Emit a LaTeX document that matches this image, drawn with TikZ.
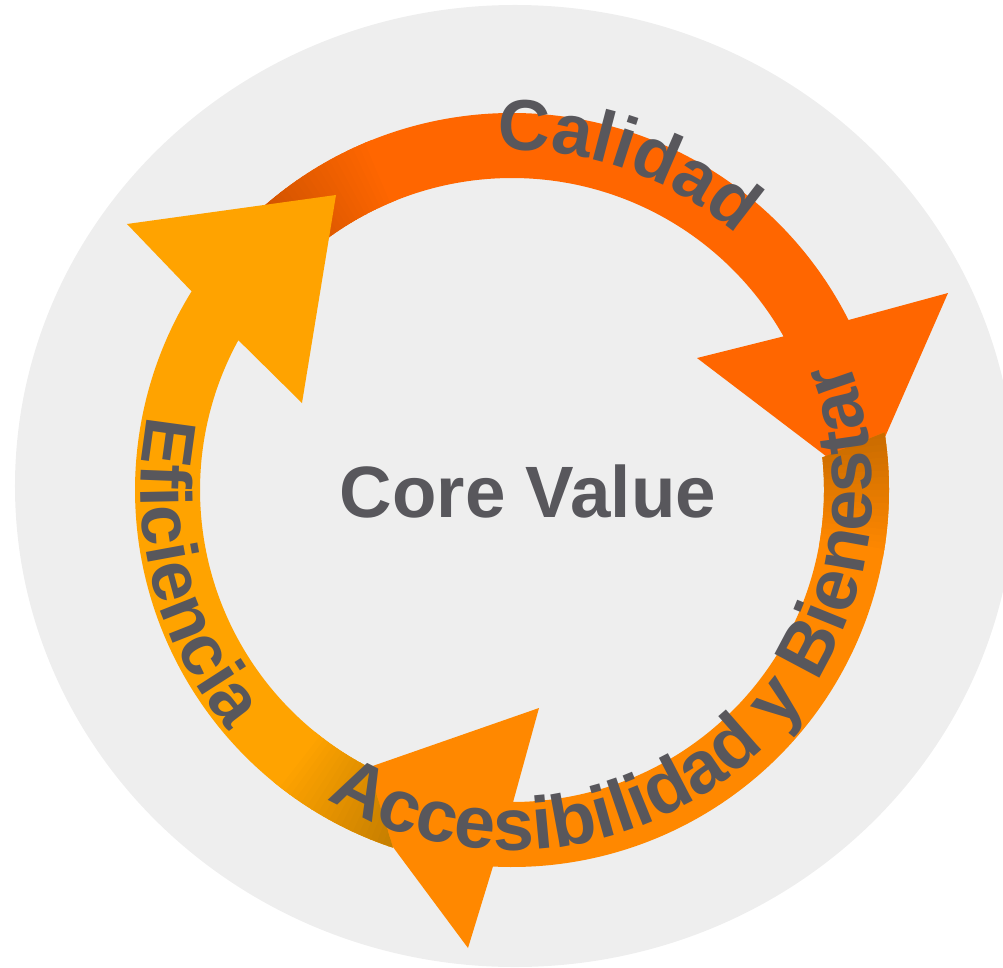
\documentclass[tikz,border=0pt]{standalone}
\usepackage{fontspec}
\setmainfont{Liberation Sans}
\usepackage{tikz}
\usetikzlibrary{decorations.text}
\definecolor{calorange}{HTML}{FF6600}
\definecolor{accorange}{HTML}{FF8800}
\definecolor{effamber}{HTML}{FFA300}
\definecolor{ringgray}{HTML}{EEEEEE}
\definecolor{labelgray}{HTML}{58575C}
\colorlet{calshade}{calorange!80!black}
\colorlet{accshade}{accorange!78!black}
\colorlet{effshade}{effamber!76!black}
\newcommand\labelfont{\fontsize{20.5}{24}\selectfont\bfseries\color{labelgray}}
\tikzset{ringtext/.style={decorate, decoration={text along path, text align=left}}}
\begin{document}
\begin{tikzpicture}[>=latex, scale=1]
\useasboundingbox (-5.12,-4.77) rectangle (4.91,4.90);
\clip (-5.12,-4.77) rectangle (4.91,4.90);
\fill[ringgray] (0.03,0.04) ellipse[x radius=5.00, y radius=4.81];
\fill[calorange] (132:3.77) arc[start angle=132, end angle=26.8, radius=3.77]
  -- (4.36,1.97) -- (3.52,0.05) -- (1.85,1.32)
  -- (29.5:3.12) arc[start angle=29.5, end angle=127, radius=3.12] -- cycle;
\begin{scope}
\clip (132:3.77) arc[start angle=132, end angle=100, radius=3.77] -- (100:3.12) arc[start angle=100, end angle=127, radius=3.12] -- cycle;
\foreach \k [evaluate=\k as \mix using int(\k*100/21)] in {0,...,21}
  \fill[calorange!\mix!calshade] (0,0) -- (134-\k:4) arc[start angle=134-\k, end angle=132.8-\k, radius=4] -- cycle;
\end{scope}
\fill[accorange] (8.8:3.77) arc[start angle=8.8, end angle=-92.9, radius=3.77]
  -- (-0.44,-4.58) -- (-1.71,-2.87) -- (0.27,-2.18)
  -- (-89.8:3.12) arc[start angle=-89.8, end angle=6, radius=3.12] -- cycle;
\begin{scope}
\clip (8.8:3.77) arc[start angle=8.8, end angle=-30, radius=3.77] -- (-30:3.12) arc[start angle=-30, end angle=6, radius=3.12] -- cycle;
\foreach \k [evaluate=\k as \mix using int(\k*100/19)] in {0,...,19}
  \fill[accorange!\mix!accshade] (0,0) -- (10-\k:4) arc[start angle=10-\k, end angle=8.8-\k, radius=4] -- cycle;
\end{scope}
\fill[effamber] (251.6:3.77) arc[start angle=251.6, end angle=148.2, radius=3.77]
  -- (-3.85,2.66) -- (-1.76,2.95) -- (-2.10,0.87)
  -- (151.3:3.12) arc[start angle=151.3, end angle=242.5, radius=3.12] -- cycle;
\begin{scope}
\clip (251.6:3.77) arc[start angle=251.6, end angle=210, radius=3.77] -- (210:3.12) arc[start angle=210, end angle=242.5, radius=3.12] -- cycle;
\foreach \k [evaluate=\k as \mix using int(\k*100/21)] in {0,...,21}
  \fill[effamber!\mix!effshade] (0,0) -- (253-\k:4) arc[start angle=253-\k, end angle=251.8-\k, radius=4] -- cycle;
\end{scope}
\path[ringtext, decoration={text={|\labelfont|Calidad}}] (92.5:3.40) arc[start angle=92.5, end angle=40, radius=3.40];
\path[ringtext, decoration={text={|\labelfont|Eficiencia}}] (168.5:3.71) arc[start angle=168.5, end angle=235, radius=3.71];
\path[ringtext, decoration={text={|\labelfont\fontsize{21}{25}\selectfont|Accesibilidad y Bienestar}}] (239:3.60) arc[start angle=239, end angle=400, radius=3.60];
\node[font=\fontsize{20.7}{25}\selectfont\bfseries, text=labelgray, anchor=base] (core) at (0.16,-0.27) {Core Value};
\end{tikzpicture}
\end{document}
